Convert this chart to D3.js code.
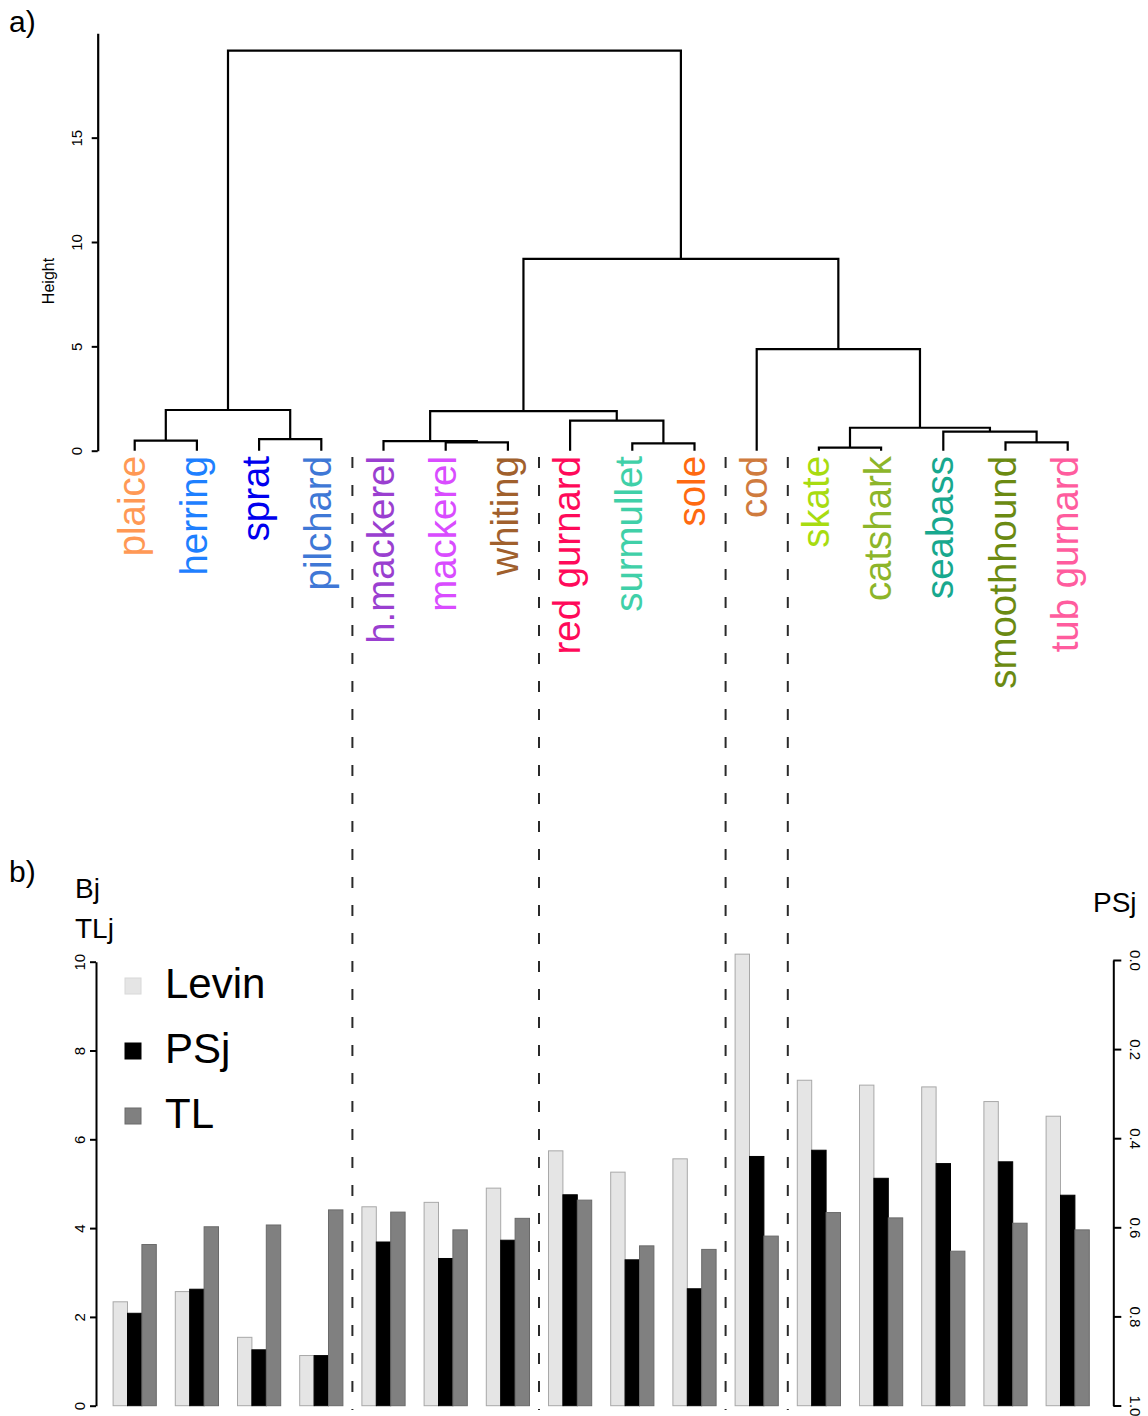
<!DOCTYPE html>
<html>
<head>
<meta charset="utf-8">
<script src="https://cdn.jsdelivr.net/npm/d3@7"></script>
<style>
  body { margin: 0; background: #fff; }
  text { font-family: "Liberation Sans", Arial, sans-serif; }
</style>
</head>
<body>
<svg id="chart"></svg>
<script>
// leaf order of the dendrogram, also the bar groups
const species = ["plaice", "herring", "sprat", "pilchard", "h.mackerel", "mackerel", "whiting",
  "red gurnard", "surmullet", "sole", "cod", "skate", "catshark", "seabass", "smoothhound", "tub gurnard"];
const labelColors = ["#ff9955", "#1e80ff", "#0000ee", "#3f78d6", "#9a3fd0", "#d94cff", "#a0602d",
  "#ff0a5a", "#40d0a8", "#ff6a10", "#cf7b3e", "#a8dc10", "#8db52a", "#18a88e", "#6b8a12", "#ff5c9e"];

// hclust style merges: a string is a leaf, a number is an earlier merge
const mergeLeft  = ["skate", "surmullet", "mackerel", "smoothhound", "h.mackerel", "plaice", "sprat", "seabass", 0, "red gurnard", 4, 5, "cod", 10, 11];
const mergeRight = ["catshark", "sole", "whiting", "tub gurnard", 2, "herring", "pilchard", 3, 7, 1, 9, 6, 8, 12, 13];
const mergeHeight = [0.15, 0.35, 0.40, 0.40, 0.46, 0.48, 0.55, 0.91, 1.10, 1.44, 1.90, 1.95, 4.87, 9.19, 19.17];
const heightTicks = [0, 5, 10, 15];

// first leaf of each cluster after a break (dashed lines)
const groupStarts = ["h.mackerel", "red gurnard", "cod", "skate"];

// bar values
const levin = [2.34, 2.57, 1.54, 1.13, 4.48, 4.58, 4.90, 5.74, 5.26, 5.56, 10.17, 7.33, 7.22, 7.18, 6.85, 6.52];
const psj   = [0.793, 0.739, 0.875, 0.888, 0.633, 0.670, 0.629, 0.527, 0.673, 0.738, 0.441, 0.427, 0.490, 0.457, 0.453, 0.528];
const tl    = [3.63, 4.03, 4.07, 4.41, 4.36, 3.96, 4.22, 4.63, 3.60, 3.52, 3.82, 4.35, 4.23, 3.48, 4.11, 3.96];
const seriesNames = ["Levin", "PSj", "TL"];
const seriesFill = ["#e5e5e5", "#000000", "#808080"];
const seriesStroke = ["#a8a8a8", "#000000", "#6a6a6a"];
const leftTicks = [0, 2, 4, 6, 8, 10];
const rightTicks = [0, 0.2, 0.4, 0.6, 0.8, 1.0];

const W = 1148, H = 1416;
const svg = d3.select("#chart").attr("width", W).attr("height", H);
svg.append("rect").attr("width", W).attr("height", H).attr("fill", "#fff");

// ---------- a) dendrogram ----------
const leafX = d3.scalePoint().domain(species).range([134.7, 1067.7]);
const hY = d3.scaleLinear().domain([0, 20]).range([450.7, 33.3]);

const nodes = [];
function pos(ref) {
  return typeof ref === "number" ? nodes[ref] : {x: leafX(ref), h: 0};
}
mergeHeight.forEach((h, i) => {
  const a = pos(mergeLeft[i]), b = pos(mergeRight[i]);
  nodes.push({x: (a.x + b.x) / 2, h: h, a: a, b: b});
});

svg.append("g")
  .selectAll("path")
  .data(nodes)
  .enter()
  .append("path")
  .attr("d", d => "M" + d.a.x + "," + hY(d.a.h) + "V" + hY(d.h) + "H" + d.b.x + "V" + hY(d.b.h))
  .attr("fill", "none")
  .attr("stroke", "#000")
  .attr("stroke-width", 2.2);

const gH = svg.append("g")
  .attr("transform", "translate(97.7,0)")
  .call(d3.axisLeft(hY).tickValues(heightTicks).tickSize(6).tickSizeOuter(0));
gH.select(".domain").attr("stroke-width", 2.2);
gH.selectAll(".tick line").attr("stroke-width", 2);
gH.selectAll(".tick text")
  .attr("x", null).attr("dy", null)
  .attr("text-anchor", "middle")
  .attr("transform", "translate(-15.5,0) rotate(-90)")
  .style("font-size", "15px")
  .style("font-family", "Liberation Sans, Arial, sans-serif")
  .attr("fill", "#000");

svg.append("text")
  .attr("transform", "translate(54,281) rotate(-90)")
  .attr("text-anchor", "middle")
  .style("font-size", "16px")
  .text("Height");

svg.append("g")
  .selectAll("text")
  .data(species)
  .enter()
  .append("text")
  .attr("transform", d => "translate(" + leafX(d) + ",456) rotate(-90)")
  .attr("text-anchor", "end")
  .attr("dy", "10px")
  .style("font-size", "38.4px")
  .attr("fill", (d, i) => labelColors[i])
  .text(d => d);

svg.append("text").attr("x", 9).attr("y", 32).style("font-size", "30px").text("a)");

// dashed cluster separators
svg.append("g")
  .selectAll("line")
  .data(groupStarts)
  .enter()
  .append("line")
  .attr("x1", d => leafX(d) - leafX.step() / 2)
  .attr("x2", d => leafX(d) - leafX.step() / 2)
  .attr("y1", 457)
  .attr("y2", 1410)
  .attr("stroke", "#2a2a2a")
  .attr("stroke-width", 2)
  .attr("stroke-dasharray", "11,17");

// ---------- b) bars ----------
const yB = d3.scaleLinear().domain([0, 10]).range([1405.7, 961.7]);
const yPS = d3.scaleLinear().domain([0, 1]).range([960, 1405.5]);
const sub = d3.scaleBand().domain(seriesNames).range([-21.6, 21.6]);

const rows = species.map((s, i) => ({
  s: s,
  bars: [
    {k: 0, top: yB(levin[i])},
    {k: 1, top: yPS(psj[i])},
    {k: 2, top: yB(tl[i])}
  ]
}));

svg.append("g")
  .selectAll("g")
  .data(rows)
  .enter()
  .append("g")
  .attr("transform", d => "translate(" + leafX(d.s) + ",0)")
  .selectAll("rect")
  .data(d => d.bars)
  .enter()
  .append("rect")
  .attr("x", d => sub(seriesNames[d.k]))
  .attr("width", sub.bandwidth())
  .attr("y", d => d.top)
  .attr("height", d => yB(0) - d.top)
  .attr("fill", d => seriesFill[d.k])
  .attr("stroke", d => seriesStroke[d.k])
  .attr("stroke-width", 1);

const gL = svg.append("g")
  .attr("transform", "translate(96,0)")
  .call(d3.axisLeft(yB).tickValues(leftTicks).tickSize(6).tickSizeOuter(0));
gL.select(".domain").attr("stroke-width", 2);
gL.selectAll(".tick line").attr("stroke-width", 2);
gL.selectAll(".tick text")
  .attr("x", null).attr("dy", null)
  .attr("text-anchor", "middle")
  .attr("transform", "translate(-11.5,0) rotate(-90)")
  .style("font-size", "15px")
  .style("font-family", "Liberation Sans, Arial, sans-serif")
  .attr("fill", "#000");

const gR = svg.append("g")
  .attr("transform", "translate(1113.3,0)")
  .call(d3.axisRight(yPS).tickValues(rightTicks).tickSize(8).tickSizeOuter(0).tickFormat(d3.format(".1f")));
gR.select(".domain").attr("stroke-width", 2);
gR.selectAll(".tick line").attr("stroke-width", 2);
gR.selectAll(".tick text")
  .attr("x", null).attr("dy", null)
  .attr("text-anchor", "middle")
  .attr("transform", "translate(17,0) rotate(90)")
  .style("font-size", "15px")
  .style("font-family", "Liberation Sans, Arial, sans-serif")
  .attr("fill", "#000");

svg.append("text").attr("x", 9).attr("y", 882).style("font-size", "30px").text("b)");
svg.append("text").attr("x", 75).attr("y", 898).style("font-size", "28px").text("Bj");
svg.append("text").attr("x", 75).attr("y", 938).style("font-size", "28px").text("TLj");
svg.append("text").attr("x", 1093).attr("y", 912).style("font-size", "28px").text("PSj");

// legend
const legend = svg.append("g")
  .selectAll("g")
  .data(seriesNames)
  .enter()
  .append("g")
  .attr("transform", (d, i) => "translate(125," + (998 + i * 65) + ")");
legend.append("rect")
  .attr("x", 0).attr("y", -20)
  .attr("width", 16).attr("height", 16)
  .attr("fill", (d, i) => seriesFill[i])
  .attr("stroke", (d, i) => i === 0 ? "#d8d8d8" : seriesStroke[i]);
legend.append("text")
  .attr("x", 40)
  .style("font-size", "42px")
  .text(d => d);
</script>
</body>
</html>
